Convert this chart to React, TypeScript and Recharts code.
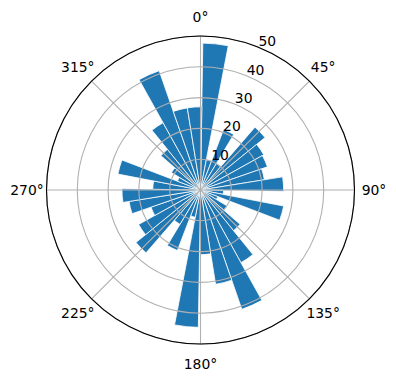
import React from 'react';
import { RadialBarChart, RadialBar, RadarChart, PolarAngleAxis, PolarRadiusAxis, PolarGrid } from 'recharts';

// compass direction of each 10° bin (start of bin)
const directions = [0, 10, 20, 30, 40, 50, 60, 70, 80, 90, 100, 110, 120, 130, 140, 150, 160, 170,
  180, 190, 200, 210, 220, 230, 240, 250, 260, 270, 280, 290, 300, 310, 320, 330, 340, 350];
// bar lengths
const counts = [47.7, 10, 21, 10, 27, 23.5, 23, 21, 27, 7.5, 27.5, 6, 10, 17, 27, 41, 31, 21,
  44.6, 9, 21, 13, 27, 23, 17, 23.5, 25.5, 15.5, 27.3, 8, 11, 17, 25, 41, 27, 27];
const angleTicks = [0, 45, 90, 135, 180, 225, 270, 315];
const radiusTicks = [10, 20, 30, 40, 50];

const data = directions.map((d, i) => ({ dir: d, count: counts[i] }));
const tickData = angleTicks.map((t) => ({ label: `${t}°` }));

const FONT = "'DejaVu Sans', sans-serif";
const W = 396, H = 380, CX = 200.5, CY = 190, R = 154;

const AngleTick = (props: any) => (
  <text x={props.x} y={props.y} textAnchor="middle" dominantBaseline="central"
    fontFamily={FONT} fontSize={13.9} fill="#000">{props.payload.value}</text>
);

const RadiusTick = (props: any) => (
  <text x={props.x - 1} y={props.y - 1.6} textAnchor="start"
    fontFamily={FONT} fontSize={13.9} fill="#000">{props.payload.value}</text>
);

export default function App() {
  return (
    <div style={{ position: 'absolute', left: 0, top: 0, width: W, height: H, background: '#fff' }}>
      <div style={{ position: 'absolute', left: 0, top: 0 }}>
        <RadialBarChart width={W} height={H} data={data} cx={CX} cy={CY}
          innerRadius={0} outerRadius={R} startAngle={79} endAngle={-281}
          layout="centric" barCategoryGap="1%" margin={{ top: 0, right: 0, bottom: 0, left: 0 }}>
          <PolarAngleAxis dataKey="dir" type="category"
            tick={false} axisLine={false} tickLine={false} />
          <PolarRadiusAxis type="number" domain={[0, 50]} allowDataOverflow
            axisLine={false} tickLine={false} tick={false} />
          <RadialBar dataKey="count" fill="#1f77b4" stroke="#ffffff"
            strokeWidth={0.8} isAnimationActive={false} />
        </RadialBarChart>
      </div>
      <div style={{ position: 'absolute', left: 0, top: 0 }}>
        <RadarChart width={W} height={H} data={tickData} cx={CX} cy={CY}
          innerRadius={0} outerRadius={R} startAngle={90} endAngle={-270}
          margin={{ top: 0, right: 0, bottom: 0, left: 0 }}>
          <PolarGrid gridType="circle" stroke="#b0b0b0" strokeWidth={1.1} />
          <PolarAngleAxis dataKey="label" type="category" tickSize={19.5} tickLine={false}
            axisLineType="circle" axisLine={{ stroke: '#000', strokeWidth: 1.1 }} tick={<AngleTick />} />
          <PolarRadiusAxis type="number" domain={[0, 50]} ticks={radiusTicks} angle={67.5}
            axisLine={false} tickLine={false} tick={<RadiusTick />} allowDataOverflow />
        </RadarChart>
      </div>
    </div>
  );
}
